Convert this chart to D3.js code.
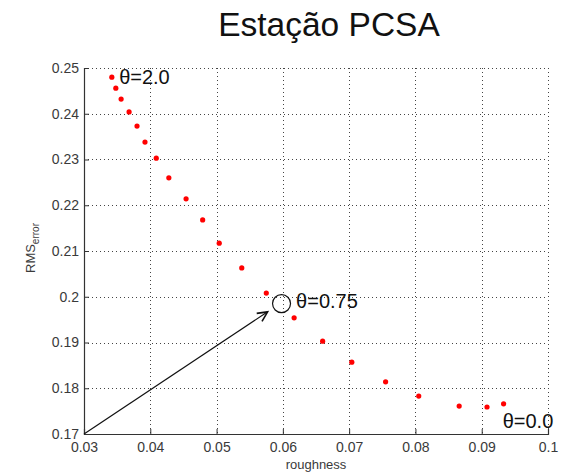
<!DOCTYPE html>
<html>
<head>
<meta charset="utf-8">
<script src="https://cdn.jsdelivr.net/npm/d3@7"></script>
<style>
  body { margin: 0; background: #fff; }
  svg { display: block; font-family: Arial, "Liberation Sans", sans-serif; }
</style>
</head>
<body>
<svg id="chart" width="565" height="475"></svg>
<script>
// Roughness vs RMS error, one point per theta value (theta from 2.0 down to 0.0)
const roughness = [0.0342, 0.0348, 0.0356, 0.0368, 0.0380, 0.0392, 0.0409, 0.0428, 0.0454, 0.0479,
                   0.0504, 0.0538, 0.0575, 0.0617, 0.0660, 0.0704, 0.0755, 0.0805, 0.0866, 0.0908, 0.0933];
const rmsError  = [0.2480, 0.2456, 0.2432, 0.2404, 0.2373, 0.2338, 0.2303, 0.2260, 0.2214, 0.2168,
                   0.2117, 0.2063, 0.2008, 0.1954, 0.1903, 0.1857, 0.1814, 0.1783, 0.1761, 0.1759, 0.1766];
const xTicks = [0.03, 0.04, 0.05, 0.06, 0.07, 0.08, 0.09, 0.1];
const yTicks = [0.17, 0.18, 0.19, 0.2, 0.21, 0.22, 0.23, 0.24, 0.25];
const annotations = [
  { text: "θ=2.0",  x: 0.0353, y: 0.2465, anchor: "start" },
  { text: "θ=0.75", x: 0.0620, y: 0.1976, anchor: "start" },
  { text: "θ=0.0",  x: 0.1008, y: 0.1713, anchor: "end" }
];
const highlight = { x: 0.0598, y: 0.1985 };   // selected theta = 0.75
const arrowFrom = { x: 0.03, y: 0.17 };
const arrowTo   = { x: 0.0577, y: 0.1967 };

const svg = d3.select("#chart");
const m = { left: 84, right: 548, top: 68, bottom: 434 };

const x = d3.scaleLinear().domain([0.03, 0.1]).range([m.left, m.right]);
const y = d3.scaleLinear().domain([0.17, 0.25]).range([m.bottom, m.top]);

// dotted grid
const grid = svg.append("g").attr("stroke", "#444").attr("stroke-width", 1)
  .attr("stroke-dasharray", "1,3");
grid.selectAll(".gx").data(xTicks.slice(1)).join("line")
  .attr("x1", d => Math.round(x(d)) + 0.5).attr("x2", d => Math.round(x(d)) + 0.5)
  .attr("y1", m.top).attr("y2", m.bottom);
grid.selectAll(".gy").data(yTicks.slice(1)).join("line")
  .attr("y1", d => Math.round(y(d)) + 0.5).attr("y2", d => Math.round(y(d)) + 0.5)
  .attr("x1", m.left).attr("x2", m.right);

// axes with inward ticks
const fmt = d => d3.format("")(+d.toFixed(2));
const xAxis = d3.axisBottom(x).tickValues(xTicks).tickSize(-5).tickPadding(8).tickFormat(fmt);
const yAxis = d3.axisLeft(y).tickValues(yTicks).tickSize(-5).tickPadding(5).tickFormat(fmt);

const gx = svg.append("g").attr("transform", `translate(0,${m.bottom})`).call(xAxis);
const gy = svg.append("g").attr("transform", `translate(${m.left},0)`).call(yAxis);
[gx, gy].forEach(g => {
  g.select(".domain").attr("stroke", "#333").attr("stroke-width", 1.2);
  g.selectAll(".tick line").attr("stroke", "#333");
  g.selectAll(".tick text").attr("fill", "#3a3a3a").attr("font-size", 14)
    .attr("font-family", "Arial, 'Liberation Sans', sans-serif");
});

// axis labels
svg.append("text").attr("x", (m.left + m.right) / 2).attr("y", 469)
  .attr("text-anchor", "middle").attr("font-size", 13).attr("fill", "#3a3a3a").text("roughness");
const yl = svg.append("text").attr("transform", `translate(35,${(m.top + m.bottom) / 2 - 3}) rotate(-90)`)
  .attr("text-anchor", "middle").attr("font-size", 13).attr("fill", "#3a3a3a");
yl.append("tspan").text("RMS");
yl.append("tspan").attr("dy", 4).attr("font-size", 10).text("error");

// title
svg.append("text").attr("x", 329).attr("y", 36).attr("text-anchor", "middle")
  .attr("font-size", 33.5).attr("fill", "#111").text("Estação PCSA");

// points
svg.append("g").attr("fill", "#ff0000").selectAll("circle")
  .data(roughness.map((r, i) => [r, rmsError[i]])).join("circle")
  .attr("cx", d => x(d[0])).attr("cy", d => y(d[1])).attr("r", 2.6);

// arrow pointing at the selected theta
const ax0 = x(arrowFrom.x), ay0 = y(arrowFrom.y), ax1 = x(arrowTo.x), ay1 = y(arrowTo.y);
const ang = Math.atan2(ay1 - ay0, ax1 - ax0);
const head = 11, spread = 0.45;
const arrow = svg.append("g").attr("stroke", "#111").attr("stroke-width", 1.2).attr("fill", "none");
arrow.append("line").attr("x1", ax0).attr("y1", ay0).attr("x2", ax1).attr("y2", ay1);
arrow.append("path").attr("stroke-width", 1.6).attr("d", d3.line()([
  [ax1 - head * Math.cos(ang - spread), ay1 - head * Math.sin(ang - spread)],
  [ax1, ay1],
  [ax1 - head * Math.cos(ang + spread), ay1 - head * Math.sin(ang + spread)]
]));

svg.append("circle").attr("cx", x(highlight.x)).attr("cy", y(highlight.y)).attr("r", 9)
  .attr("fill", "none").attr("stroke", "#111").attr("stroke-width", 1.2);

// theta labels
svg.append("g").selectAll("text").data(annotations).join("text")
  .attr("x", d => x(d.x)).attr("y", d => y(d.y)).attr("text-anchor", d => d.anchor)
  .attr("font-size", 20).attr("fill", "#111").text(d => d.text);
</script>
</body>
</html>
